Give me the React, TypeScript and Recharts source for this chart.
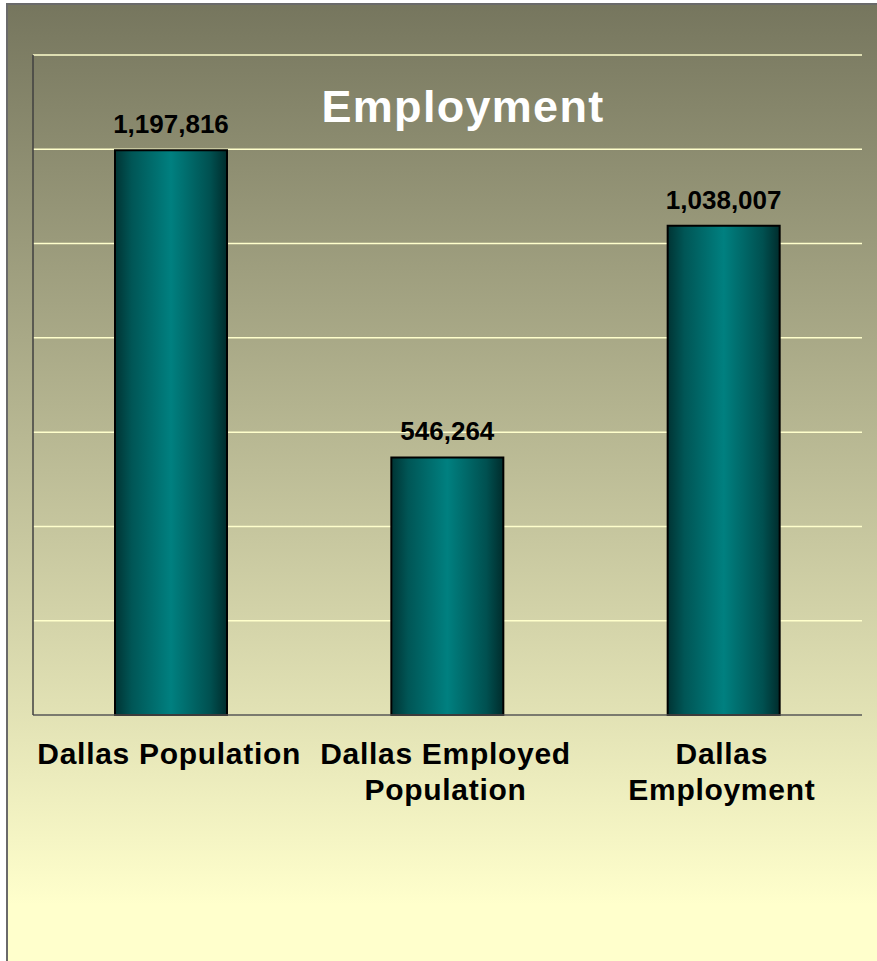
import { BarChart, Bar, XAxis, YAxis, CartesianGrid, LabelList } from "recharts";

const categories = ["Dallas Population", "Dallas Employed Population", "Dallas Employment"];
const tickLines = [["Dallas Population"], ["Dallas Employed", "Population"], ["Dallas", "Employment"]];
const employmentValues = [1197816, 546264, 1038007];
const yTicks = [0, 200000, 400000, 600000, 800000, 1000000, 1200000, 1400000];

const FONT = '"Liberation Sans", Arial, Helvetica, sans-serif';

const data = categories.map((name, i) => ({ name, value: employmentValues[i] }));

const CategoryTick = ({ x, y, index }: any) => {
  const lines = tickLines[index] ?? [];
  return (
    <g>
      {lines.map((line, i) => (
        <text
          key={i}
          x={x - 2}
          y={y + 49 + i * 36}
          textAnchor="middle"
          fontFamily={FONT}
          fontWeight="bold"
          fontSize={30}
          letterSpacing={0.7}
          fill="#000"
        >
          {line}
        </text>
      ))}
    </g>
  );
};

const ValueLabel = ({ x, y, width, value }: any) => (
  <text
    x={x + width / 2}
    y={y - 17}
    textAnchor="middle"
    fontFamily={FONT}
    fontWeight="bold"
    fontSize={26}
    fill="#000"
  >
    {Number(value).toLocaleString("en-US")}
  </text>
);

const NoTick = () => <g />;

export default function App() {
  return (
    <div
      style={{
        position: "absolute",
        left: 0,
        top: 0,
        width: 877,
        height: 961,
        background: "#fff",
        overflow: "hidden",
      }}
    >
      <div
        style={{
          position: "absolute",
          left: 6,
          top: 3,
          width: 900,
          height: 1000,
          borderTop: "2px solid #6a6a6a",
          borderLeft: "2px solid #6a6a6a",
          background: "linear-gradient(to bottom, #76765e 0px, #ffffcc 900px)",
        }}
      />
      <div style={{ position: "absolute", left: 0, top: 0 }}>
        <BarChart
          width={877}
          height={961}
          data={data}
          margin={{ top: 55, right: 15, bottom: 146, left: 23 }}
          barCategoryGap={0}
        >
          <defs>
            <linearGradient id="barGrad" x1="0" y1="0" x2="1" y2="0">
              <stop offset="0%" stopColor="#003434" />
              <stop offset="15%" stopColor="#005656" />
              <stop offset="50%" stopColor="#008080" />
              <stop offset="85%" stopColor="#005050" />
              <stop offset="100%" stopColor="#002c2c" />
            </linearGradient>
          </defs>
          <CartesianGrid vertical={false} stroke="#ffffcc" strokeWidth={1.5} />
          <XAxis
            dataKey="name"
            height={100}
            interval={0}
            tickLine={false}
            tickSize={0}
            tickMargin={0}
            axisLine={{ stroke: "#505050", strokeWidth: 1.5 }}
            tick={<CategoryTick />}
          />
          <YAxis
            width={10}
            domain={[0, 1400000]}
            ticks={yTicks}
            interval={0}
            tick={<NoTick />}
            tickLine={false}
            axisLine={{ stroke: "#404040", strokeWidth: 1.5 }}
          />
          <Bar
            dataKey="value"
            barSize={112}
            fill="url(#barGrad)"
            stroke="#000"
            strokeWidth={2}
            isAnimationActive={false}
          >
            <LabelList dataKey="value" content={<ValueLabel />} />
          </Bar>
        </BarChart>
      </div>
      <svg width={877} height={961} style={{ position: "absolute", left: 0, top: 0, pointerEvents: "none" }}>
        <text
          x={463}
          y={122}
          textAnchor="middle"
          fontFamily={FONT}
          fontWeight="bold"
          fontSize={45}
          letterSpacing={1.3}
          fill="#fff"
        >
          Employment
        </text>
      </svg>
    </div>
  );
}
